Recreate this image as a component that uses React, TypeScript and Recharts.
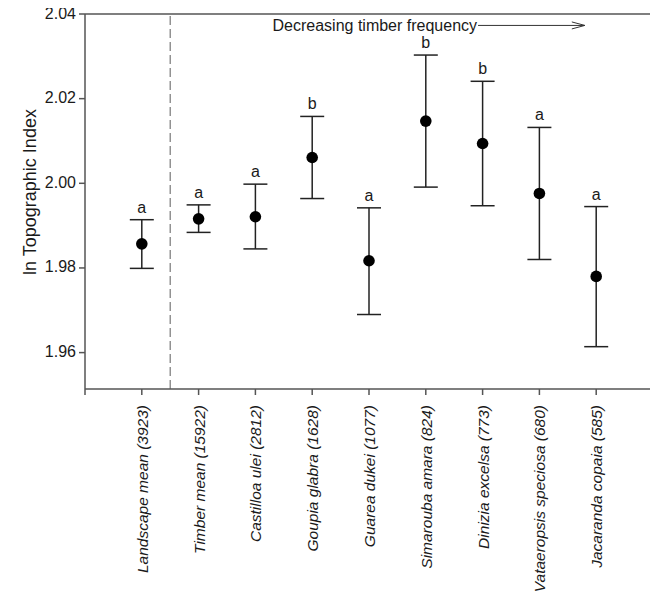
import React from "react";
import {
  ScatterChart,
  Scatter,
  XAxis,
  YAxis,
  ErrorBar,
  ReferenceLine,
} from "recharts";

const categories = [
  "Landscape mean (3923)",
  "Timber mean (15922)",
  "Castilloa ulei (2812)",
  "Goupia glabra (1628)",
  "Guarea dukei (1077)",
  "Simarouba amara (824)",
  "Dinizia excelsa (773)",
  "Vataeropsis speciosa (680)",
  "Jacaranda copaia (585)",
];
const means = [1.9857, 1.9916, 1.9921, 2.0061, 1.9817, 2.0147, 2.0094, 1.9976, 1.978];
const upper = [1.9914, 1.9949, 1.9998, 2.0158, 1.9942, 2.0303, 2.0241, 2.0132, 1.9945];
const lower = [1.9799, 1.9884, 1.9845, 1.9964, 1.969, 1.9991, 1.9947, 1.982, 1.9614];
const letters = ["a", "a", "a", "b", "a", "b", "b", "a", "a"];
const yTicks = [1.96, 1.98, 2.0, 2.02, 2.04];
const xTicks = [0, 1, 2, 3, 4, 5, 6, 7, 8, 9, 10];
const yDomain = [1.9514, 2.04];
const xDomain = [0, 10];
const annotation = "Decreasing timber frequency";
const arrowStart = { x: 6.92, y: 2.0373 };
const arrowEnd = { x: 8.8, y: 2.0373 };

const pointData = categories.map((c, i) => ({
  x: i + 1,
  y: means[i],
  err: [means[i] - lower[i], upper[i] - means[i]],
}));
const letterData = categories.map((c, i) => ({
  x: i + 1,
  y: upper[i],
  letter: letters[i],
}));

const AXIS = "#555";
const TEXT = "#1a1a1a";

const XTick = (props: any) => {
  const { x, y, payload } = props;
  const label = categories[payload.value - 1];
  if (!label) return null;
  return (
    <text
      transform={`translate(${x + 6}, ${y + 8}) rotate(-90)`}
      textAnchor="end"
      fontStyle="italic"
      fontSize={15.5}
      fill={TEXT}
    >
      {label}
    </text>
  );
};

const YTick = (props: any) => {
  const { x, y, payload } = props;
  return (
    <text x={x - 1} y={y - 1} textAnchor="end" dominantBaseline="central" fontSize={16} fill={TEXT}>
      {payload.value.toFixed(2)}
    </text>
  );
};

const Dot = (p: any) => <circle cx={p.cx} cy={p.cy} r={5.8} fill="#000" />;

const Letter = (p: any) => (
  <text x={p.cx} y={p.cy - 7} textAnchor="middle" fontSize={16} fill={TEXT}>
    {p.payload.letter}
  </text>
);

const ArrowShape = (p: any) => {
  const { x1, y1, x2, y2 } = p;
  return (
    <g>
      <text x={x1 - 1} y={y1} textAnchor="end" dominantBaseline="central" fontSize={16} fill={TEXT}>
        {annotation}
      </text>
      <line x1={x1} y1={y1} x2={x2} y2={y2} stroke="#333" strokeWidth={1} />
      <polyline
        points={`${x2 - 13},${y2 - 3.5} ${x2},${y2} ${x2 - 13},${y2 + 3.5}`}
        fill="none"
        stroke="#333"
        strokeWidth={1}
      />
    </g>
  );
};

const YLabel = () => (
  <text
    x={30}
    y={192}
    transform="rotate(-90, 30, 192)"
    textAnchor="middle"
    dominantBaseline="central"
    fontSize={18}
    fill={TEXT}
  >
    ln Topographic Index
  </text>
);

export default function App() {
  return (
    <div style={{ fontFamily: '"Liberation Sans", Arial, sans-serif', margin: "-8px 0 0 -8px" }}>
      <ScatterChart width={658} height={593} margin={{ top: 14, right: 5, left: 0, bottom: 0 }}>
        <XAxis
          type="number"
          dataKey="x"
          domain={xDomain}
          ticks={xTicks}
          interval={0}
          tick={<XTick />}
          tickSize={6}
          height={204}
          allowDataOverflow
          axisLine={{ stroke: AXIS, strokeWidth: 1.5 }}
          tickLine={{ stroke: AXIS, strokeWidth: 1.5 }}
        />
        <YAxis
          type="number"
          dataKey="y"
          domain={yDomain}
          ticks={yTicks}
          interval={0}
          tick={<YTick />}
          tickSize={6}
          width={85}
          allowDataOverflow
          axisLine={{ stroke: AXIS, strokeWidth: 1.5 }}
          tickLine={{ stroke: AXIS, strokeWidth: 1.5 }}
          label={{ content: <YLabel /> }}
        />
        <ReferenceLine y={yDomain[1]} stroke={AXIS} strokeWidth={1.5} />
        <ReferenceLine x={xDomain[1]} stroke={AXIS} strokeWidth={1.5} />
        <ReferenceLine x={1.5} stroke="#777" strokeWidth={1.2} strokeDasharray="9 4" />
        <ReferenceLine
          segment={[arrowStart, arrowEnd]}
          ifOverflow="visible"
          shape={<ArrowShape />}
        />
        <Scatter data={pointData} shape={<Dot />} isAnimationActive={false}>
          <ErrorBar dataKey="err" direction="y" width={12} stroke="#222" strokeWidth={1.5} isAnimationActive={false} />
        </Scatter>
        <Scatter data={letterData} shape={<Letter />} isAnimationActive={false} />
      </ScatterChart>
    </div>
  );
}
